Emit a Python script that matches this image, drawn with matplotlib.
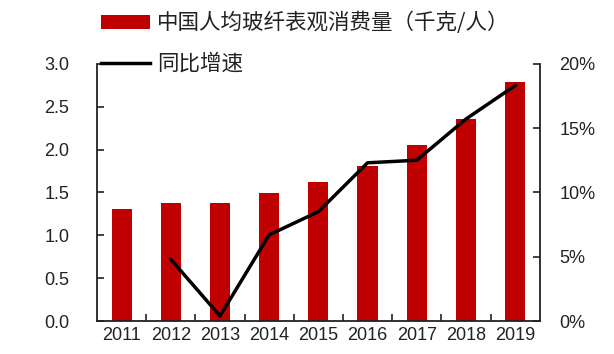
import matplotlib
matplotlib.use("Agg")
import matplotlib.pyplot as plt
from matplotlib.patches import Patch
from matplotlib.lines import Line2D
import numpy as np

plt.rcParams['font.family'] = ['Liberation Sans', 'Noto Sans CJK SC', 'DejaVu Sans']

years = ["2011", "2012", "2013", "2014", "2015", "2016", "2017", "2018", "2019"]
consumption = [1.31, 1.38, 1.38, 1.49, 1.62, 1.81, 2.05, 2.35, 2.79]
growth_years = ["2012", "2013", "2014", "2015", "2016", "2017", "2018", "2019"]
growth = [4.8, 0.4, 6.7, 8.5, 12.3, 12.5, 15.7, 18.3]
left_ticks = [0.0, 0.5, 1.0, 1.5, 2.0, 2.5, 3.0]
right_ticks = [0, 5, 10, 15, 20]
bar_label = "中国人均玻纤表观消费量（千克/人）"
line_label = "同比增速"

fig = plt.figure(figsize=(6.14, 3.54), dpi=100)
ax = fig.add_axes([0.158, 0.093, 0.721, 0.727])
ax2 = ax.twinx()

x = np.arange(len(years))
ax.bar(x, consumption, width=0.41, color="#C00000", zorder=2)
gx = [years.index(y) for y in growth_years]
ax2.plot(gx, growth, color="black", lw=2.5, zorder=3)

ax.set_xlim(-0.5, len(years) - 0.5)
ax.set_ylim(0, 3.0)
ax2.set_ylim(0, 20)
ax.set_yticks(left_ticks)
ax.set_yticklabels([f"{v:.1f}" for v in left_ticks])
ax2.set_yticks(right_ticks)
ax2.set_yticklabels([f"{v}%" for v in right_ticks])
ax.set_xticks(x)
ax.set_xticklabels(years)
ax.set_xticks(np.arange(0.5, len(years) - 0.5, 1), minor=True)

for a in (ax, ax2):
    a.spines['top'].set_visible(False)
    for s in a.spines.values():
        s.set_linewidth(1.3)
        s.set_color("#222222")
ax.spines['right'].set_visible(False)
ax2.spines['left'].set_visible(False)
ax2.spines['bottom'].set_visible(False)

ax.tick_params(axis='x', which='major', length=0, labelsize=13, pad=4, colors="#222222")
ax.tick_params(axis='x', which='minor', direction='in', length=5, width=1.2, color="#222222")
ax.tick_params(axis='y', direction='in', length=5, width=1.2, labelsize=13, pad=20, colors="#222222")
ax2.tick_params(axis='y', direction='in', length=5, width=1.2, labelsize=13, pad=14, colors="#222222")

handles = [Patch(facecolor="#C00000", edgecolor="none"),
           Line2D([0], [0], color="black", lw=2.5)]
leg = fig.legend(handles, [bar_label, line_label], loc="upper left",
                 bbox_to_anchor=(0.145, 1.0), frameon=False,
                 prop={'family': ['Noto Sans CJK SC', 'DejaVu Sans'], 'size': 15.5},
                 handlelength=2.3, handleheight=0.6, handletextpad=0.3,
                 labelspacing=0.86, borderaxespad=0.15)
for t in leg.get_texts():
    t.set_color("#222222")

fig.savefig("out.png", dpi=100)
